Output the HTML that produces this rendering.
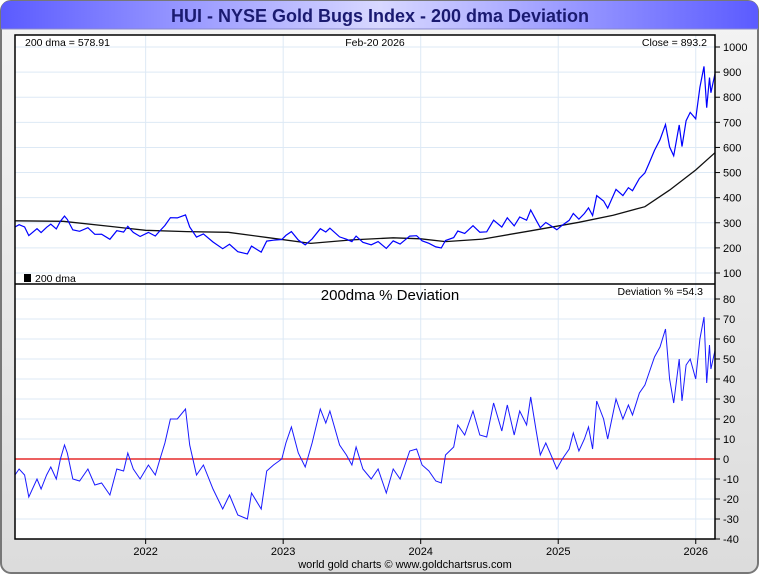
<!DOCTYPE html>
<html><head><meta charset="utf-8"><style>
html,body{margin:0;padding:0;background:#fff;}
svg{display:block;font-family:"Liberation Sans",sans-serif;}
</style></head><body>
<svg id="c" width="760" height="575" viewBox="0 0 760 575">
<defs>
<linearGradient id="bg" x1="0" y1="0" x2="0" y2="1"><stop offset="0" stop-color="#f4f4f4"/><stop offset="1" stop-color="#dcdcdc"/></linearGradient>
<linearGradient id="tb" x1="0" y1="0" x2="1" y2="0"><stop offset="0" stop-color="#5b5bff"/><stop offset="0.5" stop-color="#d8d8ff"/><stop offset="1" stop-color="#5b5bff"/></linearGradient>
</defs>
<rect x="1" y="1" width="757" height="572" rx="10" fill="url(#bg)" stroke="#777" stroke-width="2"/>
<path d="M1,29 L1,11 Q1,1 11,1 L748,1 Q758,1 758,11 L758,29 Z" fill="url(#tb)"/>
<line x1="1" y1="29" x2="758" y2="29" stroke="#8888cc"/>
<text x="380" y="22" text-anchor="middle" font-size="18" font-weight="bold" fill="#1a1a70">HUI - NYSE Gold Bugs Index - 200 dma Deviation</text>
<rect x="15" y="35" width="700" height="504" fill="#fff"/>
<g id="grid"></g>
<g id="series"></g>
<rect x="15" y="35" width="700" height="504" fill="none" stroke="#000" stroke-width="1.5"/>
<line x1="15" y1="284" x2="715" y2="284" stroke="#000" stroke-width="1.5"/>
<g id="axes" font-size="11"></g>
<text x="25" y="46" font-size="10.5">200 dma = 578.91</text>
<text x="375" y="46" font-size="10.5" text-anchor="middle">Feb-20  2026</text>
<text x="707" y="46" font-size="10.5" text-anchor="end">Close = 893.2</text>
<rect x="24" y="274" width="7" height="8" fill="#000"/>
<text x="35" y="282" font-size="10.5">200 dma</text>
<text x="390" y="300" font-size="15" text-anchor="middle">200dma  %  Deviation</text>
<text x="703" y="295" font-size="10.5" text-anchor="end">Deviation % =54.3</text>
<text x="405" y="568" font-size="11" text-anchor="middle">world gold charts © www.goldchartsrus.com</text>
</svg>
<script>
const devYears=[2021.05,2021.08,2021.12,2021.15,2021.21,2021.24,2021.28,2021.31,2021.35,2021.38,2021.41,2021.43,2021.47,2021.52,2021.58,2021.63,2021.68,2021.74,2021.79,2021.84,2021.87,2021.91,2021.96,2022.02,2022.07,2022.10,2022.14,2022.18,2022.23,2022.29,2022.32,2022.37,2022.42,2022.49,2022.56,2022.61,2022.67,2022.74,2022.77,2022.84,2022.88,2022.93,2022.99,2023.02,2023.06,2023.11,2023.16,2023.21,2023.27,2023.31,2023.34,2023.41,2023.46,2023.50,2023.53,2023.58,2023.64,2023.69,2023.75,2023.80,2023.85,2023.92,2023.97,2024.01,2024.06,2024.11,2024.15,2024.18,2024.24,2024.27,2024.32,2024.38,2024.43,2024.48,2024.53,2024.59,2024.63,2024.68,2024.72,2024.77,2024.80,2024.84,2024.87,2024.91,2024.96,2024.99,2025.03,2025.08,2025.11,2025.15,2025.19,2025.22,2025.25,2025.28,2025.33,2025.36,2025.42,2025.47,2025.51,2025.54,2025.59,2025.63,2025.66,2025.70,2025.74,2025.78,2025.81,2025.84,2025.88,2025.90,2025.93,2025.96,2026.00,2026.03,2026.06,2026.08,2026.10,2026.11,2026.14];
const devValues=[-8,-5,-8,-19,-10,-15,-8,-4,-10,0,7,3,-10,-11,-5,-13,-12,-18,-5,-6,3,-5,-10,-3,-8,-1,8,20,20,25,7,-8,-3,-15,-25,-18,-28,-30,-17,-25,-6,-3,0,8,16,3,-4,8,25,18,24,7,2,-3,6,-5,-10,-5,-17,-5,-10,4,5,-3,-6,-11,-12,2,6,17,12,24,12,11,28,14,27,12,24,17,31,14,2,8,0,-5,0,5,13,4,10,16,5,29,20,10,30,20,27,22,33,37,43,51,56,65,40,28,50,29,47,50,40,60,71,38,57,45,54.3];
const dmaYears=[2021.05,2021.4,2021.75,2022.0,2022.3,2022.6,2022.9,2023.2,2023.5,2023.8,2024.0,2024.18,2024.45,2024.8,2025.15,2025.4,2025.63,2025.81,2026.0,2026.14];
const dmaValues=[308,306,285,270,265,262,240,218,232,240,236,225,235,268,302,330,364,430,510,579];
const priceTicks=[100,200,300,400,500,600,700,800,900,1000];
const devTicks=[-40,-30,-20,-10,0,10,20,30,40,50,60,70,80];
const yearTicks=[2022,2023,2024,2025,2026];

const NS="http://www.w3.org/2000/svg";
const X0=15,X1=715,T0=2021.05,T1=2026.14;
const xs=t=>X0+(t-T0)/(T1-T0)*(X1-X0);
const yp=v=>273-(v-100)*(226/900);
const yd=v=>459-v*2;
function mk(tag,attrs,parent){const e=document.createElementNS(NS,tag);for(const k in attrs)e.setAttribute(k,attrs[k]);parent.appendChild(e);return e;}
function dmaAt(t){for(let i=0;i<dmaYears.length-1;i++){if(t<=dmaYears[i+1]){const f=(t-dmaYears[i])/(dmaYears[i+1]-dmaYears[i]);return dmaValues[i]+f*(dmaValues[i+1]-dmaValues[i]);}}return dmaValues[dmaValues.length-1];}
const grid=document.getElementById('grid'),ser=document.getElementById('series'),ax=document.getElementById('axes');
yearTicks.forEach(y=>{const x=xs(y);
 const g=mk('line',{x1:x,x2:x,y1:35,y2:539,stroke:'#dde9f5','stroke-width':1},grid);
 
 mk('line',{x1:x,x2:x,y1:539,y2:544,stroke:'#000'},ax);
 const t=mk('text',{x:x,y:555,'text-anchor':'middle'},ax);t.textContent=y;
 });
priceTicks.forEach(v=>{const y=yp(v);
 mk('line',{x1:15,x2:715,y1:y,y2:y,stroke:'#dde9f5'},grid);
 mk('line',{x1:715,x2:720,y1:y,y2:y,stroke:'#000'},ax);
 const t=mk('text',{x:723,y:y+4},ax);t.textContent=v;
 });
devTicks.forEach(v=>{const y=yd(v);
 if(v!==-40&&v!==80||v===80)mk('line',{x1:15,x2:715,y1:y,y2:y,stroke:'#dde9f5'},grid);
 mk('line',{x1:715,x2:720,y1:y,y2:y,stroke:'#000'},ax);
 const t=mk('text',{x:723,y:y+4},ax);t.textContent=v;
 });
// dma line
let dp=dmaYears.map((t,i)=>xs(t).toFixed(1)+','+yp(dmaValues[i]).toFixed(1)).join(' ');
const dl=mk('polyline',{points:dp,fill:'none',stroke:'#111','stroke-width':1.3},ser);

// close line
let cp=devYears.map((t,i)=>xs(t).toFixed(1)+','+yp(dmaAt(t)*(1+devValues[i]/100)).toFixed(1)).join(' ');
const cl=mk('polyline',{points:cp,fill:'none',stroke:'#0000ff','stroke-width':1.2},ser);

// zero line
const z=mk('line',{x1:15,x2:715,y1:yd(0),y2:yd(0),stroke:'#e00000','stroke-width':1.2},ser);

// deviation line
let vp=devYears.map((t,i)=>xs(t).toFixed(1)+','+yd(devValues[i]).toFixed(1)).join(' ');
const vl=mk('polyline',{points:vp,fill:'none',stroke:'#1a1aff','stroke-width':1},ser);

</script>
</body></html>
